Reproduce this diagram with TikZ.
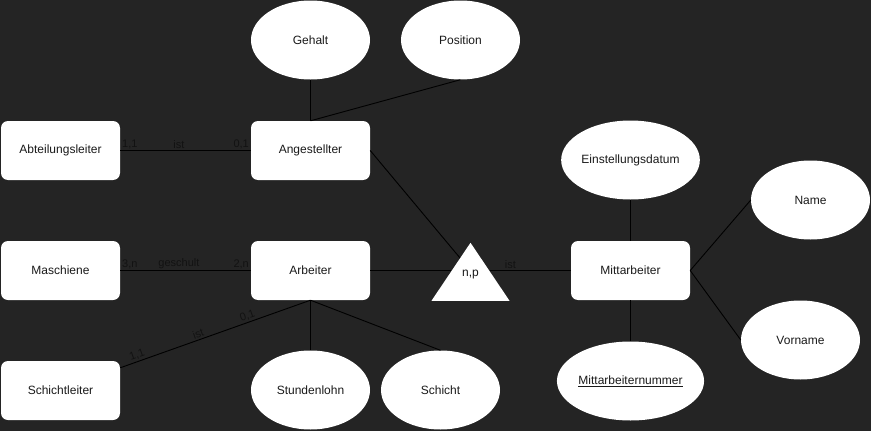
\documentclass[tikz,border=0pt]{standalone}
\usepackage{fontspec}
\setmainfont{Liberation Sans}
\usepackage{xcolor}
\usetikzlibrary{shapes.geometric}
\definecolor{erBg}{HTML}{242424}
\definecolor{erInk}{HTML}{1A1A1A}
\definecolor{erLbl}{HTML}{121212}

\begin{document}
\begin{tikzpicture}[x=1pt, y=-1pt,
  eBox/.style  ={rectangle, rounded corners=7pt, fill=white, inner sep=0pt, minimum width=119pt, minimum height=59pt, font=\fontsize{12pt}{14pt}\selectfont\color{erInk}},
  eAttr/.style ={ellipse, fill=white, inner sep=0pt, minimum width=119pt, minimum height=79pt, font=\fontsize{12pt}{14pt}\selectfont\color{erInk}},
  eRel/.style  ={isosceles triangle, isosceles triangle stretches, shape border rotate=90, fill=white, inner sep=0pt, minimum width=78pt, minimum height=58pt},
  eLine/.style ={draw=black, line width=0.9pt},
  eLbl/.style  ={font=\fontsize{11pt}{13pt}\selectfont\color{erLbl}, inner sep=1.5pt},
]
\useasboundingbox (0,0) rectangle (871,431);
\fill[erBg] (0,0) rectangle (871,431);

% entities
\node[eBox] (abtl) at (60.5,150.5) {Abteilungsleiter};
\node[eBox] (ang)  at (310.5,150.5) {Angestellter};
\node[eBox] (masch) at (60.5,270.5) {Maschiene};
\node[eBox] (arb)  at (310.5,270.5) {Arbeiter};
\node[eBox] (schl) at (60.5,390.5) {Schichtleiter};
\node[eBox] (mit)  at (630.5,270.5) {Mittarbeiter};

% attributes
\node[eAttr] (geh)  at (310.5,40) {Gehalt};
\node[eAttr] (posi) at (460.5,40) {Position};
\node[eAttr] (stl)  at (310.5,390) {Stundenlohn};
\node[eAttr] (scht) at (440.5,390) {Schicht};
\node[eAttr] (eind) at (630.5,160) {Einstellungsdatum};
\node[eAttr] (nam)  at (810.5,200) {Name};
\node[eAttr] (vorn) at (800.5,340) {Vorname};
\node[eAttr] (mnr)  at (630.5,381) {\underline{Mittarbeiternummer}};

% is-a triangle (line from Angestellter aims at its middle, so draw it first)
\coordinate (isaMid) at (470.5,270.5);
\draw[eLine] (ang.east) -- (isaMid);
\node[eRel] (isa) at (470.5,280) {};
\node[eLbl, font=\fontsize{12pt}{14pt}\selectfont\color{erInk}] (isaTxt) at (470.5,275) {n,p};

% relationships
\draw[eLine] (abtl.east) -- (ang.west)
  node[eLbl, pos=0, anchor=south west] {1,1}
  node[eLbl, pos=0.45, above] {ist}
  node[eLbl, pos=1, anchor=south east] {0,1};
\draw[eLine] (masch.east) -- (arb.west)
  node[eLbl, pos=0, anchor=south west] {3,n}
  node[eLbl, pos=0.45, above] {geschult}
  node[eLbl, pos=1, anchor=south east] {2,n};
\draw[eLine] ([yshift=-7pt]schl.north east) -- (arb.south)
  node[eLbl, pos=0.1, sloped, above] {1,1}
  node[eLbl, pos=0.42, sloped, above] {ist}
  node[eLbl, pos=0.68, sloped, above] {0,1};
\draw[eLine] (arb.east) -- (arb.east -| isa.left side);
\draw[eLine] (isa.right side |- mit.west) -- (mit.west)
  node[eLbl, pos=0.25, above] {ist};

% attribute links
\draw[eLine] (geh.south) -- (ang.north);
\draw[eLine] (posi.south) -- (ang.north);
\draw[eLine] (arb.south) -- (stl.north);
\draw[eLine] (arb.south) -- (scht.north);
\draw[eLine] (eind.south) -- (mit.north);
\draw[eLine] (mit.south) -- (mnr.north);
\draw[eLine] (mit.east) -- (nam.west);
\draw[eLine] (mit.east) -- (vorn.west);
\end{tikzpicture}
\end{document}
